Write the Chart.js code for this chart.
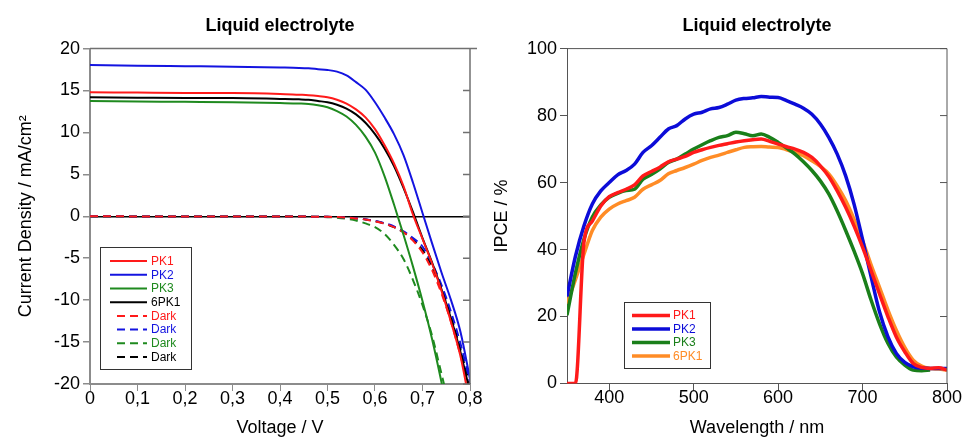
<!DOCTYPE html>
<html>
<head>
<meta charset="utf-8">
<title>Liquid electrolyte</title>
<script src="https://cdn.jsdelivr.net/npm/chart.js@4.4.0/dist/chart.umd.min.js"></script>
<style>
  body { margin: 0; background: #fff; }
  #jv { position: absolute; left: 0; top: 0; }
  #ipce { position: absolute; left: 490px; top: 0; }
</style>
</head>
<body>
<canvas id="jv" width="490" height="439"></canvas>
<canvas id="ipce" width="474" height="439"></canvas>
<script>
// J-V curves (left)
var voltage = [0, 0.1, 0.2, 0.3, 0.4, 0.44, 0.46, 0.48, 0.5, 0.52, 0.54, 0.56, 0.58, 0.6, 0.62, 0.64, 0.66, 0.68, 0.7, 0.72, 0.74, 0.76, 0.78, 0.8];
var jPK1  = [14.8, 14.75, 14.7, 14.7, 14.6, 14.5, 14.45, 14.35, 14.2, 13.9, 13.45, 12.75, 11.8, 10.4, 8.5, 6.3, 3.6, 0.2, -2.7, -5.6, -8.9, -12.6, -16.7, -22.5];
var jPK2  = [18.05, 17.95, 17.9, 17.85, 17.75, 17.7, 17.65, 17.55, 17.45, 17.25, 16.8, 16.0, 15.1, 13.6, 11.8, 9.8, 7.3, 4.0, 0.4, -3.2, -6.7, -10.0, -13.8, -19.4];
var jPK3  = [13.75, 13.7, 13.65, 13.6, 13.5, 13.45, 13.4, 13.25, 13.0, 12.55, 11.9, 10.9, 9.5, 7.6, 4.8, 1.4, -2.2, -6.0, -10.1, -14.6, -19.8, -25.5, null, null];
var j6PK1 = [14.2, 14.15, 14.1, 14.1, 14.0, 13.95, 13.9, 13.75, 13.6, 13.3, 12.85, 12.15, 11.15, 9.8, 8.1, 6.0, 3.4, 0.5, -2.6, -5.5, -8.7, -12.2, -16.2, -21.0];
var darkPK1  = [0, -0.01, -0.01, -0.02, -0.03, -0.03, -0.04, -0.05, -0.06, -0.09, -0.15, -0.25, -0.38, -0.6, -0.88, -1.3, -1.9, -2.9, -4.3, -6.4, -9.2, -12.6, -16.6, -21.0];
var darkPK2  = [0, -0.01, -0.01, -0.02, -0.03, -0.03, -0.04, -0.05, -0.06, -0.09, -0.14, -0.23, -0.36, -0.55, -0.82, -1.2, -1.8, -2.6, -3.6, -5.6, -8.2, -11.4, -15.2, -19.8];
var darkPK3  = [0, -0.01, -0.01, -0.02, -0.03, -0.04, -0.05, -0.07, -0.1, -0.17, -0.3, -0.5, -0.85, -1.3, -2.1, -3.4, -5.1, -7.6, -10.6, -14.2, -18.8, -23.5, null, null];
var dark6PK1 = [0, -0.01, -0.01, -0.02, -0.03, -0.03, -0.04, -0.05, -0.06, -0.09, -0.15, -0.24, -0.37, -0.58, -0.86, -1.3, -1.9, -2.8, -4.0, -6.0, -8.7, -12.0, -15.9, -20.2];

// IPCE spectra (right)
var wavelength = [350, 360, 370, 380, 390, 400, 410, 420, 430, 440, 450, 460, 470, 480, 490, 500, 510, 520, 530, 540, 550, 560, 570, 580, 590, 600, 610, 620, 630, 640, 650, 660, 670, 680, 690, 700, 710, 720, 730, 740, 750, 760, 770, 780, 790, 800];
var ipcePK1  = [0, 0, 42, 48.5, 53, 55.8, 57, 58, 59.3, 62, 63.3, 64.6, 66.2, 67, 67.8, 69, 69.8, 70.5, 71.1, 71.6, 72.1, 72.5, 72.8, 73, 72.3, 71.5, 70.7, 70, 69, 67.5, 65, 61.8, 57.5, 52.6, 47, 40.7, 33.8, 26.8, 20, 13.9, 9.5, 6, 4.8, 4.5, 4.7, 4];
var ipcePK2  = [26, 38, 47, 53.6, 57.5, 60, 62.3, 63.6, 65.5, 69, 71, 73.5, 76, 77, 79, 80.4, 81, 82, 82.4, 83.4, 84.6, 85.1, 85.3, 85.7, 85.5, 85.4, 84.5, 83.4, 82.2, 80.4, 77.5, 73.5, 68.5, 62, 53.5, 43, 32, 21.5, 14, 9, 6.3, 5, 4.6, 4.5, 4.5, 4.5];
var ipcePK3  = [20.4, 33, 43, 49.7, 53.3, 55.6, 56.8, 57.6, 58, 61, 62.4, 64, 66, 67, 68.5, 70, 71.3, 72.5, 73.5, 74, 75, 74.6, 74, 74.5, 73.5, 72, 70.3, 68.5, 66.2, 63.6, 60.5, 56.6, 51.5, 45.7, 39.5, 32.8, 25, 17.9, 12, 7.9, 5.5, 4, 3.8, 4, null, null];
var ipce6PK1 = [23.8, 31, 38.5, 45.7, 49.7, 52.1, 53.6, 54.6, 55.6, 58, 59.3, 60.6, 62.6, 63.6, 64.5, 65.5, 66.6, 67.5, 68.2, 69, 69.8, 70.5, 70.7, 70.8, 70.6, 70.5, 69.8, 69, 68, 66.5, 64.8, 62.6, 59, 54.6, 49, 42.7, 35.5, 28.8, 22, 15.9, 10.8, 7, 5.2, 4.5, 4.3, 4];

Chart.defaults.font.family = '"Liberation Sans", Arial, sans-serif';
Chart.defaults.color = '#000';

function pts(xs, ys) {
  return xs.map(function(x, i) { return { x: x, y: ys[i] }; });
}

// box border on top/right plus inward ticks on right side
var framePlugin = {
  id: 'frame',
  afterDraw: function(chart, args, o) {
    var ca = chart.chartArea, ctx = chart.ctx, ys = chart.scales.y;
    ctx.save();
    ctx.strokeStyle = o.color;
    ctx.lineWidth = o.width;
    ctx.beginPath();
    ctx.moveTo(ca.left, ca.top);
    ctx.lineTo(ca.right + o.overhang, ca.top);
    ctx.moveTo(ca.right, ca.top);
    ctx.lineTo(ca.right, ca.bottom);
    ys.ticks.forEach(function(t) {
      var py = ys.getPixelForValue(t.value);
      ctx.moveTo(ca.right, py);
      ctx.lineTo(ca.right - 7, py);
    });
    ctx.stroke();
    ctx.restore();
  }
};

// legend box drawn inside the plot
var boxLegend = {
  id: 'boxLegend',
  afterDraw: function(chart, args, o) {
    var ca = chart.chartArea, ctx = chart.ctx;
    var bx = ca.left + o.x, by = ca.top + o.y;
    ctx.save();
    ctx.fillStyle = '#fff';
    ctx.fillRect(bx, by, o.w, o.h);
    ctx.strokeStyle = '#333';
    ctx.lineWidth = 1;
    ctx.strokeRect(Math.round(bx) + 0.5, Math.round(by) + 0.5, o.w, o.h);
    ctx.font = '12px "Liberation Sans", Arial, sans-serif';
    ctx.textBaseline = 'middle';
    chart.data.datasets.forEach(function(ds, i) {
      var ry = by + o.first + i * o.step;
      ctx.strokeStyle = ds.borderColor;
      ctx.lineWidth = o.lw;
      ctx.setLineDash(ds.borderDash || []);
      ctx.beginPath();
      ctx.moveTo(bx + (ds.borderDash ? o.dashStart : o.lineStart), ry);
      ctx.lineTo(bx + o.lineEnd, ry);
      ctx.stroke();
      ctx.setLineDash([]);
      ctx.fillStyle = ds.borderColor;
      ctx.fillText(ds.label, bx + o.textX, ry + 0.5);
    });
    ctx.restore();
  }
};

function jvSet(label, ys, color, dashed) {
  var d = {
    label: label, data: pts(voltage, ys), borderColor: color,
    borderWidth: 2, pointRadius: 0, cubicInterpolationMode: 'monotone'
  };
  if (dashed) d.borderDash = [8, 5];
  return d;
}

new Chart(document.getElementById('jv'), {
  type: 'line',
  data: {
    datasets: [
      jvSet('PK1', jPK1, '#ff1a1a'),
      jvSet('PK2', jPK2, '#1414e0'),
      jvSet('PK3', jPK3, '#1f8a1f'),
      jvSet('6PK1', j6PK1, '#000000'),
      jvSet('Dark', darkPK1, '#ff1a1a', true),
      jvSet('Dark', darkPK2, '#1414e0', true),
      jvSet('Dark', darkPK3, '#1f8a1f', true),
      jvSet('Dark', dark6PK1, '#000000', true)
    ]
  },
  options: {
    responsive: false,
    animation: false,
    layout: { padding: { left: 0, right: 20, top: 0, bottom: 0 } },
    plugins: {
      legend: { display: false },
      tooltip: { enabled: false },
      title: {
        display: true, text: 'Liquid electrolyte', fullSize: false,
        font: { size: 18, weight: 'bold' }, padding: { top: 15, bottom: 12 }
      },
      frame: { color: '#707070', width: 1.5, overhang: 7 },
      boxLegend: { x: 10, y: 198, w: 91, h: 122, first: 14.5, step: 13.7, lw: 2, lineStart: 10, dashStart: 17, lineEnd: 47, textX: 51 }
    },
    scales: {
      x: {
        type: 'linear', min: 0, max: 0.8,
        afterFit: function(s) { s.height = 55; },
        border: { color: '#8c8c8c', width: 2 },
        grid: { drawOnChartArea: false, tickColor: '#8c8c8c', tickLength: 7 },
        ticks: {
          stepSize: 0.1, autoSkip: false, maxRotation: 0, padding: -3,
          font: { size: 18 },
          callback: function(v) { return v === 0 ? '0' : v.toFixed(1).replace('.', ','); }
        },
        title: { display: true, text: 'Voltage / V', font: { size: 18 }, padding: { top: 0, bottom: 0 } }
      },
      y: {
        min: -20, max: 20,
        afterFit: function(s) { s.width = 90; },
        border: { color: '#8c8c8c', width: 2 },
        grid: {
          color: function(c) { return c.tick && c.tick.value === 0 ? '#000' : 'rgba(0,0,0,0)'; },
          lineWidth: 1.5, tickColor: '#8c8c8c', tickLength: 7
        },
        ticks: { stepSize: 5, autoSkip: false, font: { size: 18 }, padding: 3 },
        title: { display: true, text: 'Current Density / mA/cm\u00B2', font: { size: 18 }, padding: { top: 15, bottom: 0 } }
      }
    }
  },
  plugins: [framePlugin, boxLegend]
});

function ipceSet(label, ys, color) {
  return {
    label: label, data: pts(wavelength, ys), borderColor: color,
    borderWidth: 3.5, pointRadius: 0, cubicInterpolationMode: 'monotone'
  };
}

new Chart(document.getElementById('ipce'), {
  type: 'line',
  data: {
    datasets: [
      ipceSet('PK1', ipcePK1, '#ff1a1a'),
      ipceSet('PK2', ipcePK2, '#0c0cd8'),
      ipceSet('PK3', ipcePK3, '#1a7f1a'),
      ipceSet('6PK1', ipce6PK1, '#ff8c26')
    ]
  },
  options: {
    responsive: false,
    animation: false,
    layout: { padding: { left: 0, right: 17, top: 0, bottom: 0 } },
    plugins: {
      legend: { display: false },
      tooltip: { enabled: false },
      title: {
        display: true, text: 'Liquid electrolyte', fullSize: false,
        font: { size: 18, weight: 'bold' }, padding: { top: 15, bottom: 12 }
      },
      frame: { color: '#555', width: 1, overhang: 0 },
      boxLegend: { x: 57, y: 253.5, w: 86, h: 66, first: 13.5, step: 13.5, lw: 3.5, lineStart: 8, dashStart: 8, lineEnd: 46, textX: 49 }
    },
    scales: {
      x: {
        type: 'linear', min: 350, max: 800,
        afterFit: function(s) { s.height = 55.5; },
        afterBuildTicks: function(s) { s.ticks = s.ticks.filter(function(t) { return t.value % 100 === 0; }); },
        border: { color: '#555', width: 1 },
        grid: { drawOnChartArea: false, tickColor: '#555', tickLength: 7 },
        ticks: { autoSkip: false, maxRotation: 0, padding: -3, font: { size: 18 } },
        title: { display: true, text: 'Wavelength / nm', font: { size: 18 }, padding: { top: 0, bottom: 0 } }
      },
      y: {
        min: 0, max: 100,
        afterFit: function(s) { s.width = 77; },
        border: { color: '#555', width: 1 },
        grid: { drawOnChartArea: false, tickColor: '#555', tickLength: 7 },
        ticks: { stepSize: 20, autoSkip: false, font: { size: 18 }, padding: 3 },
        title: { display: true, text: 'IPCE / %', font: { size: 18 }, padding: { top: 1, bottom: 0 } }
      }
    }
  },
  plugins: [framePlugin, boxLegend]
});
</script>
</body>
</html>
